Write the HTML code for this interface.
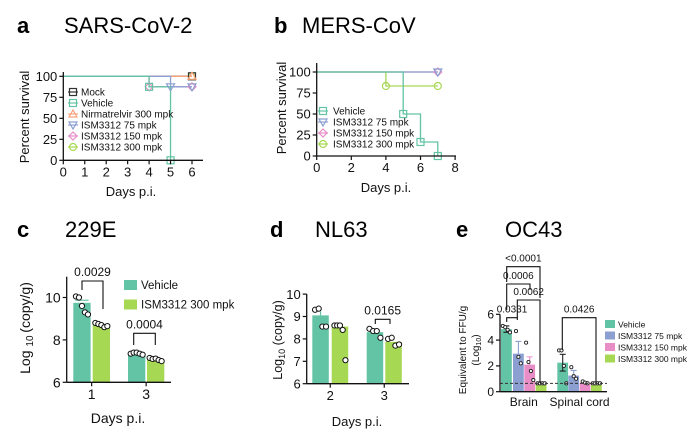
<!DOCTYPE html>
<html><head><meta charset="utf-8"><style>
html,body{margin:0;padding:0;background:#fff;}
svg{display:block;font-family:"Liberation Sans",Arial,sans-serif;}
</style></head><body>
<svg id="fig" width="695" height="436" viewBox="0 0 695 436">
<g>
<text x="17" y="33" font-size="22" font-weight="bold">a</text>
<text x="64" y="33" font-size="22">SARS-CoV-2</text>
<text x="274" y="33" font-size="22" font-weight="bold">b</text>
<text x="302" y="33" font-size="22">MERS-CoV</text>
<text x="17" y="237" font-size="22" font-weight="bold">c</text>
<text x="65" y="237" font-size="22">229E</text>
<text x="270" y="237" font-size="22" font-weight="bold">d</text>
<text x="315" y="237" font-size="22">NL63</text>
<text x="456" y="237" font-size="22" font-weight="bold">e</text>
<text x="505" y="237" font-size="22">OC43</text>
</g>
</svg>
<script>
// ---------- DATA ----------
const survADays = [0,1,2,3,4,5,6];
const survAMock = [100,100,100,100,100,100,100];
const survAVehicle = [100,100,100,100,87.5,0,null];
const survANirm = [100,100,100,100,100,100,100];
const survA75 = [100,100,100,100,100,87.5,87.5];
const survA150 = [100,100,100,100,87.5,87.5,87.5];
const survA300 = [100,100,100,100,100,100,100];
const survBDays = [0,4,5,6,7];
const survBVehicle = [100,100,50,16.7,0];
const survB75 = [100,100,100,100,100];
const survB150 = [100,100,100,100,100];
const survB300 = [100,83.3,83.3,83.3,83.3];
const cDays = ["1","3"];
const cVehicle = [9.75,7.3];
const cISM = [8.75,7.05];
const cVehDots = [[10.05,10.0,9.6,9.3,9.2],[7.35,7.4,7.4,7.35,7.3]];
const cISMDots = [[8.8,8.75,8.7,8.6,8.65],[7.15,7.1,7.12,7.05,7.0]];
const dDays = ["2","3"];
const dVehicle = [9.05,8.3];
const dISM = [8.55,7.87];
const dVehDots = [[9.3,9.35,8.55,8.55],[8.45,8.35,8.35,8.05]];
const dISMDots = [[8.6,8.6,8.6,8.4,7.05],[8.0,8.05,7.7,7.75]];
const eTissues = ["Brain","Spinal cord"];
const eVehicle = [4.85,2.25];
const e75 = [2.95,1.25];
const e150 = [2.1,0.7];
const e300 = [0.65,0.65];
const eErr = [[0.25,0.95,0.6,0],[0.65,0.4,0.08,0]];
const eDots = [[[5.1,5.0,4.8,4.6],[4.7,2.7,2.2],[3.8,2.3,1.6,0.9],[0.65,0.65,0.65,0.65]],
               [[3.2,3.2,2.0,0.65],[1.9,1.2,1.0],[0.8,0.7,0.65],[0.65,0.65,0.65,0.65]]];
const eLOD = 0.65;

const C = {veh:"#63c3a5", m75:"#8b9fd1", m150:"#e88dc6", m300:"#a6d854", nir:"#f9a27c", mock:"#333"};
const svg = document.getElementById('fig');
const NS = "http://www.w3.org/2000/svg";
function mk(tag, attrs, name, parent){
  const el = document.createElementNS(NS, tag);
  for (const k in attrs) el.setAttribute(k, attrs[k]);
  
  
  (parent||svg).appendChild(el);
  return el;
}
function txt(x,y,s,size,name,anchor,extra){
  const t = mk('text', Object.assign({x:x,y:y,'font-size':size,'text-anchor':anchor||'start',fill:'#111'}, extra||{}), name);
  t.textContent = s; return t;
}
function axes(x0,x1,y0,y1,name){
  mk('line',{x1:x0,y1:y0,x2:x0,y2:y1,stroke:'#111','stroke-width':1.3},name+'-y-axis');
  mk('line',{x1:x0,y1:y0,x2:x1,y2:y0,stroke:'#111','stroke-width':1.3},name+'-x-axis');
}
function ytick(x0,y,label,size,name){
  mk('line',{x1:x0-4,y1:y,x2:x0,y2:y,stroke:'#111','stroke-width':1.2},name+'-y-tick');
  txt(x0-6,y+size*0.36,label,size,name+'-y-tick-label','end');
}
function xtick(x,y0,label,size,name){
  mk('line',{x1:x,y1:y0,x2:x,y2:y0+4,stroke:'#111','stroke-width':1.2},name+'-x-tick');
  txt(x,y0+5+size*0.85,label,size,name+'-x-tick-label','middle');
}
function marker(type,x,y,col,name){
  const a={fill:'none',stroke:col,'stroke-width':1.2};
  if(type==='sq') mk('rect',Object.assign({x:x-3.5,y:y-3.5,width:7,height:7},a),name);
  else if(type==='ci') mk('circle',Object.assign({cx:x,cy:y,r:3.5},a),name);
  else if(type==='tu') mk('path',Object.assign({d:`M${x-4},${y+3}L${x+4},${y+3}L${x},${y-4}Z`},a),name);
  else if(type==='td') mk('path',Object.assign({d:`M${x-4},${y-3}L${x+4},${y-3}L${x},${y+4}Z`},a),name);
  else if(type==='di') mk('path',Object.assign({d:`M${x-4},${y}L${x},${y-4}L${x+4},${y}L${x},${y+4}Z`},a),name);
}
function step(days,vals,sx,sy,col,name){
  let d=`M${sx(days[0])},${sy(vals[0])}`;
  for(let i=1;i<days.length;i++){ if(vals[i]===null) break; d+=`L${sx(days[i])},${sy(vals[i-1])}L${sx(days[i])},${sy(vals[i])}`; }
  mk('path',{d:d,fill:'none',stroke:col,'stroke-width':1.3},name);
}
function stepMarkers(days,vals,sx,sy,type,col,name){
  let last=0; for(let i=0;i<vals.length;i++) if(vals[i]!==null) last=i;
  for(let i=1;i<=last;i++){ if(vals[i]!==vals[i-1]||i===last) marker(type,sx(days[i]),sy(vals[i]),col,name); }
}

// ---------- PANEL A ----------
(function(){
  const sx=d=>63.3+d*21.45, sy=v=>160.3-v*0.84;
  const series=[[survA300,C.m300,'ci','ism-300'],[survAMock,C.mock,'sq','mock'],[survANirm,C.nir,'tu','nirmatrelvir'],
                [survA150,C.m150,'di','ism-150'],[survA75,C.m75,'td','ism-75'],[survAVehicle,C.veh,'sq','vehicle']];
  series.forEach(s=>step(survADays,s[0],sx,sy,s[1],'a-line-'+s[3]));
  series.forEach(s=>stepMarkers(survADays,s[0],sx,sy,s[2],s[1],'a-point-'+s[3]));
  axes(63.3,203,160.3,72,'a');
  [0,25,50,75,100].forEach(v=>ytick(63.3,sy(v),String(v),13,'a'));
  [0,1,2,3,4,5,6].forEach(v=>xtick(sx(v),160.3,String(v),13,'a'));
  txt(0,0,'Percent survival',13,'a-y-axis-title','middle',{transform:'translate(29,117) rotate(-90)'});
  txt(131,196,'Days p.i.',13,'a-x-axis-title','middle');
  const leg=[['Mock',C.mock,'sq'],['Vehicle',C.veh,'sq'],['Nirmatrelvir 300 mpk',C.nir,'tu'],['ISM3312 75 mpk',C.m75,'td'],['ISM3312 150 mpk',C.m150,'di'],['ISM3312 300 mpk',C.m300,'ci']];
  leg.forEach((l,i)=>{const y=92+i*11;
    mk('line',{x1:68,y1:y,x2:78,y2:y,stroke:l[1],'stroke-width':1.2},'a-legend-line');
    marker(l[2],73,y,l[1],'a-legend-marker');
    txt(81,y+3.5,l[0],10,'a-legend-entry');});
})();

// ---------- PANEL B ----------
(function(){
  const sx=d=>316.7+d*17.3, sy=v=>156-v*0.84;
  const series=[[survB150,C.m150,'di','ism-150'],[survB75,C.m75,'td','ism-75'],[survB300,C.m300,'ci','ism-300'],[survBVehicle,C.veh,'sq','vehicle']];
  series.forEach(s=>step(survBDays,s[0],sx,sy,s[1],'b-line-'+s[3]));
  series.forEach(s=>stepMarkers(survBDays,s[0],sx,sy,s[2],s[1],'b-point-'+s[3]));
  axes(316.7,456,156,63,'b');
  [0,25,50,75,100].forEach(v=>ytick(316.7,sy(v),String(v),13,'b'));
  [0,2,4,6,8].forEach(v=>xtick(sx(v),156,String(v),13,'b'));
  txt(0,0,'Percent survival',13,'b-y-axis-title','middle',{transform:'translate(286,108) rotate(-90)'});
  txt(386,192,'Days p.i.',13,'b-x-axis-title','middle');
  const leg=[['Vehicle',C.veh,'sq'],['ISM3312 75 mpk',C.m75,'td'],['ISM3312 150 mpk',C.m150,'di'],['ISM3312 300 mpk',C.m300,'ci']];
  leg.forEach((l,i)=>{const y=111+i*11;
    mk('line',{x1:318,y1:y,x2:328,y2:y,stroke:l[1],'stroke-width':1.2},'b-legend-line');
    marker(l[2],323,y,l[1],'b-legend-marker');
    txt(333,y+3.5,l[0],10,'b-legend-entry');});
})();

function dots(cx,vals,sy,name,spread){
  const n=vals.length;
  vals.forEach((v,i)=>{const off=n>1?(i-(n-1)/2)*(spread/(n-1)):0;
    mk('circle',{cx:cx+off,cy:sy(v),r:2.6,fill:'#fff',stroke:'#111','stroke-width':1},name);});
}
function bracket(x1,x2,top,l1,l2,label,size,name){
  mk('path',{d:`M${x1},${l1}L${x1},${top}L${x2},${top}L${x2},${l2}`,fill:'none',stroke:'#111','stroke-width':1.1},name+'-bracket');
  txt((x1+x2)/2,top-5,label,size,name+'-p-value','middle');
}

// ---------- PANEL C ----------
(function(){
  const y0=382.3, sy=v=>y0-(v-6)*21.2;
  const bx=[[73.3,92.7],[128,147]], w=17.3;
  cDays.forEach((d,i)=>{
    mk('rect',{x:bx[i][0],y:sy(cVehicle[i]),width:w,height:y0-sy(cVehicle[i]),fill:C.veh},'c-bar-vehicle-day'+d);
    mk('rect',{x:bx[i][1],y:sy(cISM[i]),width:w,height:y0-sy(cISM[i]),fill:C.m300},'c-bar-ism300-day'+d);
    mk('line',{x1:bx[i][0]+2,y1:sy(cVehicle[i]+0.12),x2:bx[i][0]+w-2,y2:sy(cVehicle[i]+0.12),stroke:C.veh,'stroke-width':1.2},'c-error-bar');
    dots(bx[i][0]+w/2,cVehDots[i],sy,'c-dot-vehicle',12);
    dots(bx[i][1]+w/2,cISMDots[i],sy,'c-dot-ism300',12);
    xtick((bx[i][0]+bx[i][1]+w)/2,y0,d,14,'c');
  });
  axes(66.7,171,y0,276.7,'c');
  [6,8,10].forEach(v=>ytick(66.7,sy(v),String(v),14,'c'));
  bracket(82,103,281,290,309,'0.0029',12,'c-day1');
  bracket(133.7,155.3,333.3,345,345,'0.0004',12,'c-day3');
  const t=txt(0,0,'Log ',14,'c-y-axis-title','middle',{transform:'translate(30,328) rotate(-90)'});
  const s1=document.createElementNS(NS,'tspan'); s1.setAttribute('font-size','10'); s1.setAttribute('dy','3'); s1.textContent='10 '; t.appendChild(s1);
  const s2=document.createElementNS(NS,'tspan'); s2.setAttribute('dy','-3'); s2.textContent='(copy/g)'; t.appendChild(s2);
  txt(118,423,'Days p.i.',14,'c-x-axis-title','middle');
  [['Vehicle',C.veh],['ISM3312 300 mpk',C.m300]].forEach((l,i)=>{const y=280+i*19.5;
    mk('rect',{x:124,y:y,width:13,height:10,fill:l[1]},'c-legend-swatch');
    txt(141,y+9,l[0],11.5,'c-legend-entry');});
})();

// ---------- PANEL D ----------
(function(){
  const y0=383.7, sy=v=>y0-(v-6)*22.4;
  const bx=[[312.3,331.7],[366.7,385.3]], w=16.5;
  dDays.forEach((d,i)=>{
    mk('rect',{x:bx[i][0],y:sy(dVehicle[i]),width:w,height:y0-sy(dVehicle[i]),fill:C.veh},'d-bar-vehicle-day'+d);
    mk('rect',{x:bx[i][1],y:sy(dISM[i]),width:w,height:y0-sy(dISM[i]),fill:C.m300},'d-bar-ism300-day'+d);
    mk('line',{x1:bx[i][0]+w/2,y1:sy(dVehicle[i]),x2:bx[i][0]+w/2,y2:sy(dVehicle[i])-4,stroke:C.veh,'stroke-width':1.2},'d-error-bar');
    dots(bx[i][0]+w/2,dVehDots[i],sy,'d-dot-vehicle',11);
    dots(bx[i][1]+w/2,dISMDots[i],sy,'d-dot-ism300',11);
    xtick((bx[i][0]+bx[i][1]+w)/2,y0,d,13,'d');
  });
  axes(306.7,409,y0,294,'d');
  [6,7,8,9,10].forEach(v=>ytick(306.7,sy(v),String(v),13,'d'));
  bracket(375.3,390,319.3,324,324,'0.0165',12,'d-day3');
  const t=txt(0,0,'Log',12.5,'d-y-axis-title','middle',{transform:'translate(282,340) rotate(-90)'});
  const s1=document.createElementNS(NS,'tspan'); s1.setAttribute('font-size','9'); s1.setAttribute('dy','3'); s1.textContent='10'; t.appendChild(s1);
  const s2=document.createElementNS(NS,'tspan'); s2.setAttribute('dy','-3'); s2.textContent=' (copy/g)'; t.appendChild(s2);
  txt(357,426,'Days p.i.',13,'d-x-axis-title','middle');
})();

// ---------- PANEL E ----------
(function(){
  const y0=391.7, sy=v=>y0-v*12.9;
  const groups=[[501,513,524.3,535.7],[557.3,568.3,579.7,591]], w=10.8;
  const vals=[eVehicle,e75,e150,e300], cols=[C.veh,C.m75,C.m150,C.m300], nm=['vehicle','ism75','ism150','ism300'];
  eTissues.forEach((t,i)=>{
    vals.forEach((arr,j)=>{
      const x=groups[i][j], v=arr[i];
      mk('rect',{x:x,y:sy(v),width:w,height:y0-sy(v),fill:cols[j]},'e-bar-'+nm[j]);
      if(eErr[i][j]>0){ const cx=x+w/2, col=j===0?'#222':cols[j];
        mk('path',{d:`M${cx},${sy(v-eErr[i][j])}L${cx},${sy(v+eErr[i][j])}M${cx-3},${sy(v+eErr[i][j])}L${cx+3},${sy(v+eErr[i][j])}M${cx-3},${sy(v-eErr[i][j])}L${cx+3},${sy(v-eErr[i][j])}`,stroke:col,'stroke-width':1.1,fill:'none'},'e-error-bar');}
      eDots[i][j].forEach((dv,k)=>{const n=eDots[i][j].length; const off=(k-(n-1)/2)*2.4;
        mk('circle',{cx:x+w/2+off,cy:sy(dv),r:1.6,fill:'#fff',stroke:'#222','stroke-width':0.9},'e-dot-'+nm[j]);});
    });
    txt((groups[i][0]+groups[i][3]+w)/2,406,t,12,'e-x-tick-label','middle');
  });
  mk('line',{x1:500,y1:sy(eLOD),x2:607,y2:sy(eLOD),stroke:'#333','stroke-width':1,'stroke-dasharray':'3,2'},'e-detection-limit');
  axes(500,607,y0,314.3,'e');
  [0,2,4,6].forEach(v=>ytick(500,sy(v),String(v),12,'e'));
  bracket(506.7,517.3,317.7,322,320,'0.0331',10,'e-brain-75');
  bracket(517.3,540,300,318,383,'0.0062',10,'e-brain-75-300');
  bracket(506.7,530,284,310,290,'0.0006',10,'e-brain-150');
  bracket(506.7,540,266.7,282,298,'<0.0001',10,'e-brain-300');
  bracket(562.3,596,317.7,350,383,'0.0426',10,'e-spinal-300');
  txt(0,0,'Equivalent to FFU/g',10,'e-y-axis-title','middle',{transform:'translate(466,350) rotate(-90)'});
  const t=txt(0,0,'(Log',10,'e-y-axis-title-unit','middle',{transform:'translate(479,350) rotate(-90)'});
  const s1=document.createElementNS(NS,'tspan'); s1.setAttribute('font-size','7'); s1.setAttribute('dy','2'); s1.textContent='10'; t.appendChild(s1);
  const s2=document.createElementNS(NS,'tspan'); s2.setAttribute('dy','-2'); s2.textContent=')'; t.appendChild(s2);
  [['Vehicle',C.veh],['ISM3312 75 mpk',C.m75],['ISM3312 150 mpk',C.m150],['ISM3312 300 mpk',C.m300]].forEach((l,i)=>{const y=320+i*11.5;
    mk('rect',{x:605,y:y,width:10,height:8,fill:l[1]},'e-legend-swatch');
    txt(618,y+7.5,l[0],8.5,'e-legend-entry');});
})();
</script>
</body></html>
